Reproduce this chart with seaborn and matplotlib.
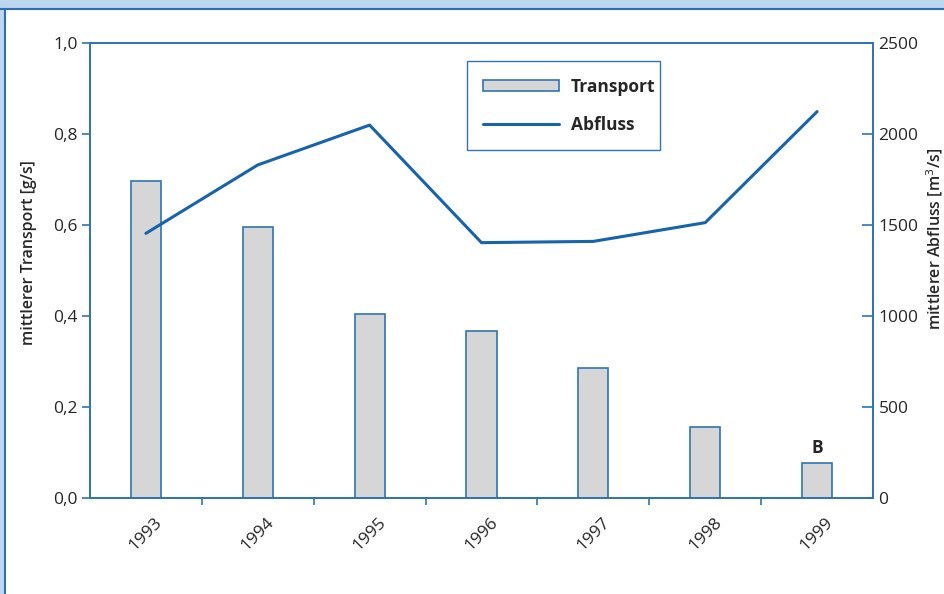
import matplotlib
matplotlib.use("Agg")
import matplotlib.pyplot as plt
from matplotlib.patches import Rectangle
from matplotlib.lines import Line2D
import numpy as np
import pandas as pd
import seaborn as sns

# data
years = ["1993", "1994", "1995", "1996", "1997", "1998", "1999"]
transport = [0.697, 0.595, 0.405, 0.367, 0.286, 0.156, 0.078]
abfluss = [1454, 1830, 2049, 1403, 1410, 1513, 2123]
left_ticks = [0.0, 0.2, 0.4, 0.6, 0.8, 1.0]
left_labels = ["0,0", "0,2", "0,4", "0,6", "0,8", "1,0"]
right_ticks = [0, 500, 1000, 1500, 2000, 2500]

BLUE = "#2f74b9"
LINE = "#1763ad"
BAR = "#d6d6d6"

sns.set_style("white")
plt.rcParams["font.family"] = ["Open Sans", "DejaVu Sans"]

df = pd.DataFrame({"year": years, "transport": transport, "abfluss": abfluss})
df["pos"] = range(len(years))

fig = plt.figure(figsize=(9.44, 5.94), dpi=100)
ax = fig.add_axes([0.0953, 0.1616, 0.8295, 0.766])

sns.barplot(data=df, x="year", y="transport", ax=ax, color=BAR,
            width=0.27, edgecolor=BLUE, linewidth=1.2, saturation=1)

ax2 = ax.twinx()
sns.lineplot(data=df, x="pos", y="abfluss", ax=ax2, color=LINE, linewidth=2.2)

ax.set_xlim(-0.5, len(years) - 0.5)
ax.set_ylim(0, 1.0)
ax2.set_ylim(0, 2500)

# x axis: ticks at category borders, labels at centres
ax.set_xticks(np.arange(0.5, len(years) - 1, 1.0))
ax.set_xticklabels([])
ax.set_xticks(range(len(years)), minor=True)
ax.set_xticklabels(years, minor=True, rotation=45, ha="center", fontsize=12.5)
ax.tick_params(axis="x", which="major", direction="out", length=5, width=1.2, color=BLUE, bottom=True)
ax.tick_params(axis="x", which="minor", length=0, pad=12)

ax.set_yticks(left_ticks)
ax.set_yticklabels(left_labels, fontsize=12.5)
ax.tick_params(axis="y", direction="out", length=6, width=1.2, color=BLUE, left=True, pad=3)

ax2.set_yticks(right_ticks)
ax2.set_yticklabels([str(t) for t in right_ticks], fontsize=12.5)
ax2.tick_params(axis="y", direction="in", length=8, width=1.2, color=BLUE, right=True, pad=4)

for a in (ax, ax2):
    for s in a.spines.values():
        s.set_color(BLUE)
        s.set_linewidth(1.3)

ax.set_xlabel("")
ax.set_ylabel("mittlerer Transport [g/s]", fontsize=11.5, fontweight="semibold")
ax.yaxis.set_label_coords(-0.068, 0.54)
ax2.set_xlabel("")
ax2.set_ylabel("mittlerer Abfluss [m$^3$/s]", fontsize=11.5, fontweight="semibold")
ax2.yaxis.set_label_coords(1.066, 0.57)

ax.text(6, transport[6] + 0.012, "B", ha="center", va="bottom",
        fontsize=12.5, fontweight="bold")

handles = [Rectangle((0, 0), 1, 1, facecolor=BAR, edgecolor=BLUE, linewidth=1.2),
           Line2D([0], [0], color=LINE, linewidth=2.2)]
leg = ax2.legend(handles, ["Transport", "Abfluss"], loc="upper left",
                 bbox_to_anchor=(0.481, 0.763, 0.2465, 0.197), mode="expand",
                 fancybox=False, framealpha=1, edgecolor=BLUE,
                 handlelength=4.4, handleheight=0.6, labelspacing=1.15,
                 borderpad=0.95, handletextpad=0.65, borderaxespad=0,
                 prop={"size": 12.5, "weight": "bold"})
leg.get_frame().set_linewidth(1.0)

# light blue frame around the figure
fig.add_artist(Rectangle((0, 1 - 8 / 594), 1, 8 / 594, transform=fig.transFigure,
                         facecolor="#bdd7ee", edgecolor="none"))
fig.add_artist(Rectangle((0, 0), 4 / 944, 1, transform=fig.transFigure,
                         facecolor="#bdd7ee", edgecolor="none"))
fig.add_artist(Line2D([0, 1], [1 - 9 / 594, 1 - 9 / 594], transform=fig.transFigure,
                      color="#2e6eb3", linewidth=1.5))
fig.add_artist(Line2D([4.5 / 944, 4.5 / 944], [0, 1 - 9 / 594], transform=fig.transFigure,
                      color="#2e6eb3", linewidth=1.5))

fig.savefig("out.png", dpi=100)
